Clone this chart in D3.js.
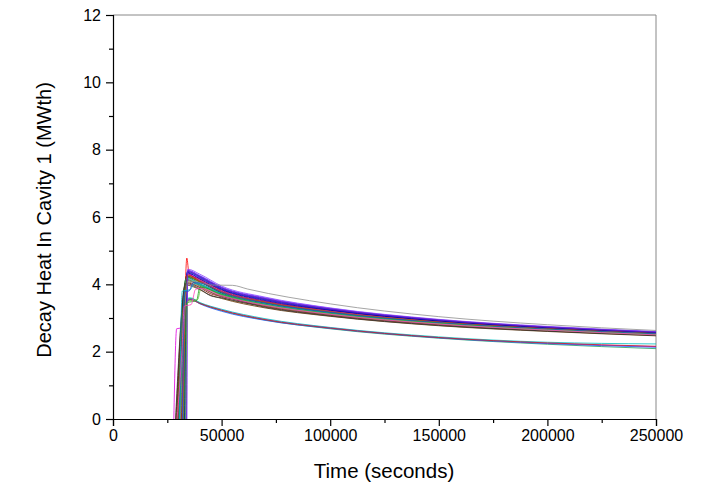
<!DOCTYPE html>
<html><head><meta charset="utf-8">
<script src="https://cdn.jsdelivr.net/npm/d3@7"></script>
<style>body{margin:0;background:#fff}svg{display:block}text{font-family:"Liberation Sans",Arial,sans-serif}</style>
</head><body><svg id="c" width="714" height="487"></svg>
<script>
// ---- data ----
const xTicks = [0, 50000, 100000, 150000, 200000, 250000];
const yTicks = [0, 2, 4, 6, 8, 10, 12];
const xTitle = "Time (seconds)";
const yTitle = "Decay Heat In Cavity 1 (MWth)";

// main bundle of runs: [time, MWth]
const mainRuns = [
  [[30500,0],[33800,4.25],[40000,4.08],[50000,3.74],[70000,3.44],[100000,3.16],[150000,2.86],[200000,2.67],[250000,2.53]],
  [[32200,0],[34000,4.78],[35000,4.32],[40000,4.15],[50000,3.82],[70000,3.50],[100000,3.22],[150000,2.90],[200000,2.70],[250000,2.56]],
  [[29600,0],[33600,4.15],[40000,3.98],[50000,3.68],[70000,3.40],[100000,3.12],[150000,2.83],[200000,2.64],[250000,2.51]],
  [[33300,0],[34200,4.38],[40000,4.22],[50000,3.88],[70000,3.56],[100000,3.26],[150000,2.93],[200000,2.73],[250000,2.58]],
  [[31800,0],[34100,4.32],[40000,4.18],[50000,3.86],[70000,3.54],[100000,3.24],[150000,2.92],[200000,2.72],[250000,2.57]],
  [[29000,0],[33500,4.05],[40000,3.90],[45000,3.72],[50000,3.64],[70000,3.34],[100000,3.08],[150000,2.80],[200000,2.62],[250000,2.49]],
  [[33700,0],[34300,4.42],[40000,4.26],[50000,3.92],[70000,3.60],[100000,3.29],[150000,2.95],[200000,2.74],[250000,2.59]],
  [[30900,0],[33900,4.20],[40000,4.02],[50000,3.72],[70000,3.42],[100000,3.14],[150000,2.85],[200000,2.66],[250000,2.52]],
  [[32600,0],[34100,4.30],[40000,4.12],[50000,3.80],[70000,3.49],[100000,3.20],[150000,2.89],[200000,2.69],[250000,2.55]],
  [[29300,0],[33400,3.98],[40000,3.84],[44000,3.70],[50000,3.58],[70000,3.30],[100000,3.05],[150000,2.77],[200000,2.60],[250000,2.47]],
  [[33000,0],[34200,4.36],[40000,4.20],[50000,3.86],[70000,3.55],[100000,3.25],[150000,2.92],[200000,2.72],[250000,2.57]],
  [[31500,0],[34000,4.28],[40000,4.10],[50000,3.78],[70000,3.47],[100000,3.18],[150000,2.87],[200000,2.68],[250000,2.54]],
  [[30200,0],[33700,4.12],[40000,3.95],[46000,3.74],[50000,3.66],[70000,3.37],[100000,3.10],[150000,2.82],[200000,2.63],[250000,2.50]],
  [[33900,0],[34400,4.40],[40000,4.24],[50000,3.90],[70000,3.58],[100000,3.27],[150000,2.94],[200000,2.73],[250000,2.58]],
  [[31200,0],[33900,4.22],[40000,4.06],[50000,3.76],[70000,3.46],[100000,3.17],[150000,2.87],[200000,2.67],[250000,2.53]],
  [[29900,0],[33600,4.08],[40000,3.92],[47000,3.70],[50000,3.62],[70000,3.35],[100000,3.09],[150000,2.81],[200000,2.63],[250000,2.50]],
  [[32900,0],[34200,4.34],[40000,4.16],[50000,3.84],[70000,3.52],[100000,3.23],[150000,2.91],[200000,2.71],[250000,2.56]],
  [[30700,0],[33800,4.18],[40000,4.00],[50000,3.70],[70000,3.41],[100000,3.13],[150000,2.84],[200000,2.65],[250000,2.51]],
  [[34000,0],[34400,4.45],[40000,4.30],[50000,3.95],[70000,3.62],[100000,3.30],[150000,2.96],[200000,2.75],[250000,2.60]],
  [[32300,0],[34000,4.26],[40000,4.08],[50000,3.77],[70000,3.47],[100000,3.19],[150000,2.88],[200000,2.68],[250000,2.54]],
  [[28800,0],[33500,4.02],[40000,3.86],[45000,3.66],[50000,3.60],[70000,3.32],[100000,3.06],[150000,2.78],[200000,2.61],[250000,2.48]],
  [[33500,0],[34300,4.38],[40000,4.22],[50000,3.89],[70000,3.57],[100000,3.27],[150000,2.94],[200000,2.73],[250000,2.58]],
  [[31000,0],[34500,4.10],[40000,4.05],[45000,3.98],[55000,3.97],[62000,3.86],[100000,3.42],[150000,3.04],[200000,2.80],[250000,2.63]]
];

// runs that step up in two stages
const stepRuns = [
  [[30600,0],[31900,3.80],[35500,3.84],[37500,4.02],[40000,4.00],[50000,3.72],[70000,3.42],[100000,3.15],[150000,2.85],[200000,2.66],[250000,2.52]],
  [[32000,0],[32900,3.78],[35000,3.80],[37000,4.05],[40000,4.04],[50000,3.76],[70000,3.45],[100000,3.17],[150000,2.86],[200000,2.67],[250000,2.53]],
  [[32600,0],[34000,3.45],[38500,3.52],[40000,3.92],[50000,3.70],[70000,3.40],[100000,3.13],[150000,2.84],[200000,2.65],[250000,2.51]],
  [[33400,0],[34400,3.50],[39000,3.55],[40500,3.88],[50000,3.68],[70000,3.39],[100000,3.12],[150000,2.83],[200000,2.64],[250000,2.50]],
  [[29500,0],[31800,2.10],[32800,3.35],[36000,3.40],[38000,3.85],[40000,3.88],[50000,3.66],[70000,3.38],[100000,3.11],[150000,2.82],[200000,2.64],[250000,2.50]]
];

// lower group of runs
const lowerRuns = [
  [[28000,0],[29300,2.68],[32600,2.72],[33600,3.20],[35000,3.56],[40000,3.44],[50000,3.24],[70000,2.96],[100000,2.71],[150000,2.42],[200000,2.25],[250000,2.15]],
  [[30000,0],[33200,3.52],[35500,3.60],[40000,3.46],[50000,3.26],[70000,2.98],[100000,2.72],[150000,2.44],[200000,2.28],[250000,2.23]],
  [[31000,0],[33600,3.55],[36000,3.58],[40000,3.44],[50000,3.22],[70000,2.94],[100000,2.68],[150000,2.40],[200000,2.22],[250000,2.09]],
  [[32000,0],[33800,3.50],[36000,3.55],[40000,3.42],[50000,3.20],[70000,2.93],[100000,2.69],[150000,2.41],[200000,2.24],[250000,2.13]],
  [[29800,0],[33400,3.48],[35800,3.54],[40000,3.43],[50000,3.23],[70000,2.95],[100000,2.70],[150000,2.42],[200000,2.26],[250000,2.16]]
];

const mainColors = ["#000000","#ff0000","#008000","#0000ff","#8000ff","#800000","#4040ff","#008080","#a000c0","#603000",
  "#0040c0","#c00000","#404040","#7000e0","#2a6000","#8a5a2a","#0000a0","#00a0a0","#9040ff","#c06000","#303030","#6020c0","#909090"];
const stepColors = ["#00b0c0","#2050d0","#20a020","#60c040","#ff40c0"];
const lowerColors = ["#e000e0","#00c0c0","#20a060","#2060ff","#c02020"];

// ---- drawing ----
const svg = d3.select("#c");
const m = {l:113, t:15, r:656, b:419};
const x = d3.scaleLinear().domain([0,250000]).range([m.l, m.r]);
const y = d3.scaleLinear().domain([0,12]).range([m.b, m.t]);

svg.append("defs").append("clipPath").attr("id","clip")
  .append("rect").attr("x",m.l).attr("y",m.t-2).attr("width",m.r-m.l).attr("height",m.b-m.t+2);

// frame top/right
svg.append("line").attr("x1",m.l).attr("x2",m.r).attr("y1",m.t).attr("y2",m.t).attr("stroke","#888").attr("stroke-width",1);
svg.append("line").attr("x1",m.r).attr("x2",m.r).attr("y1",m.t).attr("y2",m.b).attr("stroke","#888").attr("stroke-width",1);

const line = d3.line().x(d=>x(d[0])).y(d=>y(d[1])).curve(d3.curveMonotoneX);
const g = svg.append("g").attr("clip-path","url(#clip)");
function draw(runs, colors){
  runs.forEach((r,i)=>{
    g.append("path").attr("d", line(r)).attr("fill","none")
      .attr("stroke", colors[i % colors.length]).attr("stroke-width",0.9).attr("stroke-opacity",0.9);
  });
}
draw(lowerRuns, lowerColors);
draw(mainRuns, mainColors);
draw(stepRuns, stepColors);

// axes
const xAxis = d3.axisBottom(x).tickValues(xTicks).tickFormat(d3.format("d")).tickSizeOuter(0).tickSize(7).tickPadding(4);
svg.append("g").attr("transform",`translate(0,${m.b})`).call(xAxis);
const xMinor = d3.axisBottom(x).tickValues(d3.range(25000,250000,50000)).tickFormat("").tickSize(4).tickSizeOuter(0);
svg.append("g").attr("transform",`translate(0,${m.b})`).call(xMinor).select(".domain").remove();
const yAxis = d3.axisLeft(y).tickValues(yTicks).tickSizeOuter(0).tickSize(7).tickPadding(5);
svg.append("g").attr("transform",`translate(${m.l},0)`).call(yAxis);
const yMinor = d3.axisLeft(y).tickValues(d3.range(1,12,2)).tickFormat("").tickSize(4).tickSizeOuter(0);
svg.append("g").attr("transform",`translate(${m.l},0)`).call(yMinor).select(".domain").remove();
svg.selectAll(".tick text").attr("font-size",16).attr("fill","#000").attr("font-family","'Liberation Sans',Arial,sans-serif");
svg.selectAll(".domain, .tick line").attr("stroke","#000").attr("stroke-width",1.2);

svg.append("text").attr("x",(m.l+m.r)/2 - 0.5).attr("y",478).attr("text-anchor","middle")
  .attr("font-size",20.5).text(xTitle);
svg.append("text").attr("transform",`translate(51,${(m.t+m.b)/2 + 3}) rotate(-90)`).attr("text-anchor","middle")
  .attr("font-size",20).text(yTitle);
</script></body></html>
